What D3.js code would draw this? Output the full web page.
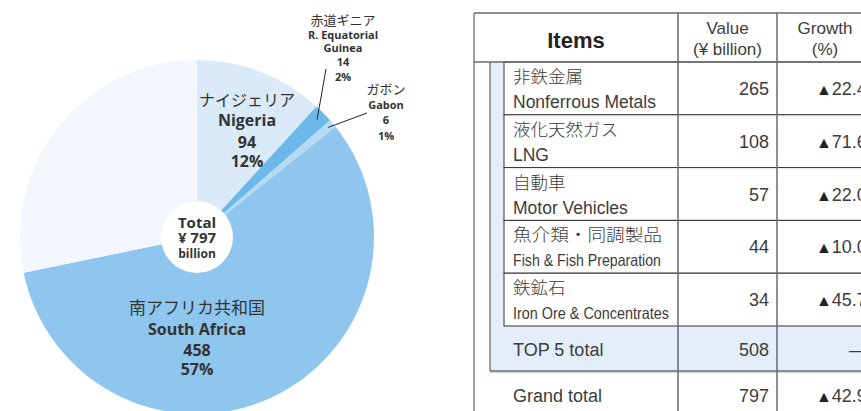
<!DOCTYPE html>
<html>
<head>
<meta charset="utf-8">
<script src="https://cdn.jsdelivr.net/npm/d3@7"></script>
<style>
  html, body { margin: 0; padding: 0; background: #fff; }
  svg { display: block; }
</style>
</head>
<body>
<svg id="chart" width="861" height="411"></svg>
<script>
// Export partners: share of the total (¥ billion), clockwise from 12 o'clock
const partnerJa = ["ナイジェリア", "赤道ギニア", "ガボン", "南アフリカ共和国", "その他"];
const partnerEn = ["Nigeria", "R. Equatorial|Guinea", "Gabon", "South Africa", "Others"];
const partnerValues = [94, 14, 6, 458, 225];
const partnerColors = ["#daeaf8", "#6cb8e9", "#b6daf4", "#8fc6ed", "#f3f7fd"];

// Top export items
const itemsJa = ["非鉄金属", "液化天然ガス", "自動車", "魚介類・同調製品", "鉄鉱石"];
const itemsEn = ["Nonferrous Metals", "LNG", "Motor Vehicles", "Fish & Fish Preparation", "Iron Ore & Concentrates"];
const itemValues = [265, 108, 57, 44, 34];
const itemGrowth = [22.4, 71.6, 22.0, 10.0, 45.7];
const top5Total = 508;
const grandTotal = 797;
const grandGrowth = 42.9;

const svg = d3.select("#chart");
const TXT = "#333";
const TTXT = "#3c3c3c";
const JP = "'Noto Sans CJK JP', 'Noto Sans', sans-serif";
const LAT = "'Open Sans', 'Noto Sans', sans-serif";
const TBL = "'Liberation Sans', Arial, sans-serif";

// ---------- Pie ----------
const cx = 197, cy = 237, R = 177;
const total = d3.sum(partnerValues);
const pie = d3.pie().sort(null).value(d => d)(partnerValues);
const arc = d3.arc().innerRadius(0).outerRadius(R);
const g = svg.append("g").attr("transform", `translate(${cx},${cy})`);

g.selectAll("path.slice").data(pie).join("path")
  .attr("class", "slice")
  .attr("d", arc)
  .attr("fill", (d, i) => partnerColors[i]);

g.append("circle").attr("r", 36).attr("fill", "#fff");

const pct = v => Math.round(v / total * 100) + "%";

function label(x, lines) {
  const t = svg.append("g");
  lines.forEach(l => {
    t.append("text")
      .attr("x", x).attr("y", l.y)
      .attr("text-anchor", "middle")
      .attr("font-family", l.jp ? JP : LAT)
      .attr("font-weight", l.jp ? 400 : 700)
      .attr("font-size", l.size)
      .attr("fill", TXT)
      .text(l.text);
  });
}

// Nigeria
label(247, [
  { text: partnerJa[0], y: 106, size: 16, jp: true },
  { text: partnerEn[0], y: 126, size: 16 },
  { text: partnerValues[0], y: 148, size: 16 },
  { text: pct(partnerValues[0]), y: 167, size: 16 }
]);
// South Africa
label(197, [
  { text: partnerJa[3], y: 314, size: 17, jp: true },
  { text: partnerEn[3], y: 335, size: 16 },
  { text: partnerValues[3], y: 356, size: 16 },
  { text: pct(partnerValues[3]), y: 375, size: 16 }
]);
// Centre total
label(cx, [
  { text: "Total", y: 228, size: 15 },
  { text: "¥ " + total, y: 243, size: 15 },
  { text: "billion", y: 258, size: 12 }
]);
// Equatorial Guinea
const eqEn = partnerEn[1].split("|");
label(343, [
  { text: partnerJa[1], y: 25, size: 13, jp: true },
  { text: eqEn[0], y: 39, size: 11 },
  { text: eqEn[1], y: 52, size: 11 },
  { text: partnerValues[1], y: 66, size: 11 },
  { text: pct(partnerValues[1]), y: 81, size: 11 }
]);
// Gabon
label(386, [
  { text: partnerJa[2], y: 94, size: 13, jp: true },
  { text: partnerEn[2], y: 109, size: 11 },
  { text: partnerValues[2], y: 124, size: 11 },
  { text: pct(partnerValues[2]), y: 140, size: 11 }
]);

// Leader lines from the thin slices to their labels
function leader(slice, r, x2, y2) {
  const a = (slice.startAngle + slice.endAngle) / 2;
  svg.append("line")
    .attr("x1", cx + r * Math.sin(a)).attr("y1", cy - r * Math.cos(a))
    .attr("x2", x2).attr("y2", y2)
    .attr("stroke", "#222").attr("stroke-width", 1);
}
leader(pie[1], 168, 326, 69);
leader(pie[2], 171, 367, 113);

// ---------- Table ----------
const T = { left: 474, top: 13, headBottom: 62, groupLeft: 490, itemLeft: 504,
            col1: 678, col2: 777, right: 900, bottom: 420 };
const rowY = d3.scaleLinear().domain([0, itemsJa.length]).range([T.headBottom, 326]);
const groupBottom = 371;
const tg = svg.append("g");

// blue TOP-5 group
tg.append("rect")
  .attr("x", T.groupLeft).attr("y", T.headBottom)
  .attr("width", T.right - T.groupLeft).attr("height", groupBottom - T.headBottom)
  .attr("fill", "#e3eefa");

// item cells (white)
tg.selectAll("rect.item").data(itemsJa).join("rect")
  .attr("class", "item")
  .attr("x", T.itemLeft).attr("y", (d, i) => rowY(i))
  .attr("width", T.right - T.itemLeft).attr("height", (d, i) => rowY(i + 1) - rowY(i))
  .attr("fill", "#fff").attr("stroke", "#333").attr("stroke-width", 1);

const gray = "#6a6a6a";
function hline(x1, x2, y, c, w) {
  tg.append("line").attr("x1", x1).attr("x2", x2).attr("y1", y).attr("y2", y)
    .attr("stroke", c).attr("stroke-width", w);
}
function vline(x, y1, y2, c, w) {
  tg.append("line").attr("x1", x).attr("x2", x).attr("y1", y1).attr("y2", y2)
    .attr("stroke", c).attr("stroke-width", w);
}
hline(T.left, T.right, T.top, gray, 1.3);
hline(T.left, T.right, T.headBottom, gray, 1.3);
vline(T.left, T.top, T.bottom, gray, 1.3);
vline(T.groupLeft, T.headBottom, groupBottom, gray, 1.3);
hline(T.groupLeft, T.right, groupBottom, gray, 1.5);
hline(T.groupLeft, T.right, groupBottom + 1.5, "#cfcfcf", 1);
vline(T.col1, T.top, T.bottom, gray, 1.5);
vline(T.col2, T.top, T.bottom, gray, 1.5);

function ttext(x, y, s, opts = {}) {
  const t = tg.append("text")
    .attr("x", x).attr("y", y)
    .attr("text-anchor", opts.anchor || "start")
    .attr("font-family", opts.jp ? JP : TBL)
    .attr("font-weight", opts.bold ? 700 : (opts.jp ? 300 : 400))
    .attr("font-size", opts.size || 18)
    .attr("fill", opts.bold ? "#222" : TTXT)
    .text(s);
  if (opts.len) t.attr("textLength", opts.len).attr("lengthAdjust", "spacingAndGlyphs");
  return t;
}

// growth cell: triangle followed by the figure
function growth(x, y, v) {
  const t = tg.append("text")
    .attr("x", x).attr("y", y)
    .attr("font-family", TBL).attr("font-size", 18).attr("fill", TTXT);
  t.append("tspan").attr("font-size", 16).attr("fill", "#222").text("▲");
  t.append("tspan").attr("dx", 0).text(v.toFixed(1));
}

// header
ttext((T.left + T.col1) / 2, 48, "Items", { anchor: "middle", bold: true, size: 22 });
ttext((T.col1 + T.col2) / 2, 34, "Value", { anchor: "middle", size: 17 });
ttext((T.col1 + T.col2) / 2, 55, "(¥ billion)", { anchor: "middle", size: 17 });
ttext(825, 34, "Growth", { anchor: "middle", size: 17 });
ttext(825, 55, "(%)", { anchor: "middle", size: 17 });

// item rows
const enLen = [null, null, null, 148, 156];
const jaLen = [null, null, null, 149, null];
itemsJa.forEach((ja, i) => {
  const y0 = rowY(i), y1 = rowY(i + 1), mid = (y0 + y1) / 2;
  ttext(513, y0 + 21, ja, { jp: true, size: 17.5, len: jaLen[i] });
  ttext(513, y0 + 46, itemsEn[i], { size: enLen[i] ? 16.5 : 17.5, len: enLen[i] });
  ttext(769, mid + 6.5, itemValues[i], { anchor: "end", size: 18 });
  growth(816, mid + 6.5, itemGrowth[i]);
});

// totals
ttext(513, 356, "TOP 5 total", { size: 18 });
ttext(769, 356, top5Total, { anchor: "end", size: 18 });
ttext(849, 356, "—", { size: 18 });
ttext(513, 402, "Grand total", { size: 18 });
ttext(769, 402, grandTotal, { anchor: "end", size: 18 });
growth(816, 402, grandGrowth);
</script>
</body>
</html>
